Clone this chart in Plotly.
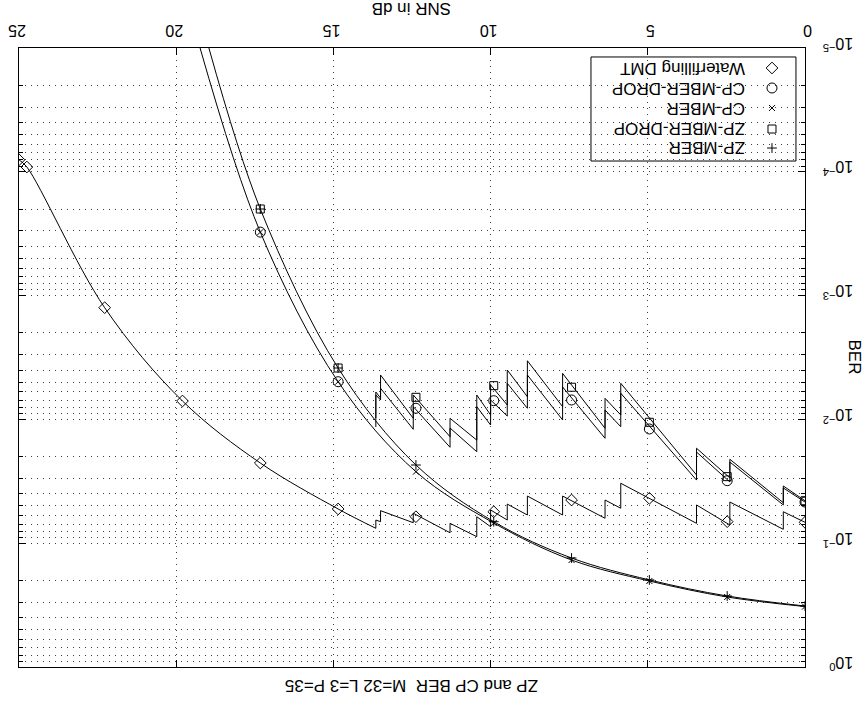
import plotly.graph_objects as go

# ---------------------------------------------------------------------------
# BER vs SNR for ZP / CP block transmission (M=32, L=3, P=35)
# ---------------------------------------------------------------------------

# SNR values (dB) where markers are drawn
snr_marks = [0, 2.475, 4.95, 7.425, 9.9, 12.375, 14.85, 17.325]
snr_marks_wf = [0, 2.475, 4.95, 7.425, 9.9, 12.375, 14.85, 17.325, 19.8, 22.275, 24.75, 25.0]

# marker values
zp_mber_marks = [0.3217, 0.267, 0.198, 0.1317, 0.0670, 0.02335, 0.003844, 0.0001998]
cp_mber_marks = [0.325, 0.272, 0.202, 0.1367, 0.0687, 0.02645, 0.004961, 0.000307]
zp_drop_marks = [0.0454, 0.0290, 0.01055, 0.0055, 0.00534, 0.00663, 0.003844, 0.0001998]
cp_drop_marks = [0.04647, 0.03127, 0.01195, 0.00697, 0.00706, 0.00813, 0.004961, 0.000307]
wf_marks = [0.0678, 0.0670, 0.0434, 0.0448, 0.0557, 0.0611, 0.0529, 0.0225,
            0.0071, 0.001252, 9.15e-5, 8.0e-5]

# smooth MBER curves (no sub-channel dropping), down to BER = 1e-5
zp_mber_snr = [0, 2.475, 4.95, 7.425, 9.9, 12.375, 14.85, 17.325, 18.96]
zp_mber_ber = [0.3217, 0.267, 0.198, 0.1317, 0.0670, 0.02335, 0.003844, 0.0001998, 1e-5]
cp_mber_snr = [0, 2.475, 4.95, 7.425, 9.9, 12.375, 14.85, 17.325, 19.24]
cp_mber_ber = [0.325, 0.272, 0.202, 0.1367, 0.0687, 0.02645, 0.004961, 0.000307, 1e-5]

# bit-loading breakpoints: each SNR appears twice (value before / after the jump)
step_snr = [0, 0.69, 0.69, 2.39, 2.39, 3.45, 3.45, 5.86, 5.86, 6.36, 6.36, 7.71, 7.71,
            8.83, 8.83, 9.47, 9.47, 10.0, 10.0, 10.44, 10.44, 11.29, 11.29, 12.46, 12.46,
            13.5, 13.5, 13.65, 13.65]
zp_drop_ber = [0.0454, 0.0345, 0.0471, 0.0210, 0.0297, 0.0171, 0.0281, 0.00511, 0.00921,
               0.00676, 0.0118, 0.00425, 0.00789, 0.00336, 0.00656, 0.00399, 0.00765,
               0.00527, 0.00921, 0.00635, 0.0147, 0.0098, 0.0138, 0.00635, 0.0098,
               0.00438, 0.00672, 0.00601, 0.00974]
cp_drop_ber = [0.0465, 0.0358, 0.0491, 0.0221, 0.0320, 0.01834, 0.0309, 0.00615, 0.01146,
               0.0084, 0.01421, 0.00547, 0.0101, 0.00438, 0.00813, 0.00511, 0.00939,
               0.00697, 0.0111, 0.00789, 0.01824, 0.01174, 0.0168, 0.00789, 0.01202,
               0.00561, 0.00697, 0.00635, 0.01151]
wf_step_ber = [0.0678, 0.0557, 0.0772, 0.0465, 0.0713, 0.0491, 0.0691, 0.0328, 0.0522,
               0.0448, 0.0629, 0.0416, 0.0592, 0.0416, 0.0592, 0.0483, 0.0650, 0.0539,
               0.0736, 0.0611, 0.0886, 0.0691, 0.0823, 0.0573, 0.0683, 0.0546, 0.0670,
               0.0650, 0.0758]
# waterfilling DMT beyond the last loading change
wf_tail_snr = [13.65, 14.85, 17.325, 19.8, 22.275, 24.75, 25.0]
wf_tail_ber = [0.0758, 0.0529, 0.0225, 0.0071, 0.001252, 9.15e-5, 8.0e-5]

x_ticks = [0, 5, 10, 15, 20, 25]
y_decades = [1e-5, 1e-4, 1e-3, 1e-2, 1e-1, 1e0]
y_tick_text = ["10<sup>\u22125</sup>", "10<sup>\u22124</sup>", "10<sup>\u22123</sup>",
               "10<sup>\u22122</sup>", "10<sup>\u22121</sup>", "10<sup>0</sup>"]
y_minor = [m * d for d in [1e-5, 1e-4, 1e-3, 1e-2, 1e-1] for m in range(2, 10)]

legend_labels = ["Waterfilling DMT", "CP-MBER-DROP", "CP-MBER", "ZP-MBER-DROP", "ZP-MBER"]
legend_symbols = ["diamond-open", "circle-open", "x-thin-open", "square-open", "cross-thin-open"]
legend_sizes = [9, 10, 6, 8, 7]

title_text = "ZP and CP BER  M=32 L=3 P=35"
x_title = "SNR in dB"
y_title = "BER"

FONT = "Liberation Sans, Arial, Helvetica, sans-serif"
INK = "black"
GRID = "rgba(0,0,0,0.75)"
TICK_SIZE = 16
TEXT_SIZE = 17

fig = go.Figure()


def add_line(x, y, shape="linear"):
    fig.add_trace(go.Scatter(
        x=x, y=y, mode="lines", hoverinfo="skip", showlegend=False,
        line=dict(color=INK, width=1, shape=shape, smoothing=1.0)))


def add_marks(x, y, symbol, size, xaxis="x", yaxis="y"):
    fig.add_trace(go.Scatter(
        x=x, y=y, mode="markers", hoverinfo="skip", showlegend=False,
        xaxis=xaxis, yaxis=yaxis,
        marker=dict(symbol=symbol, size=size, color=INK, line=dict(color=INK, width=1))))


# curves
add_line(zp_mber_snr, zp_mber_ber, "spline")
add_line(cp_mber_snr, cp_mber_ber, "spline")
add_line(step_snr, zp_drop_ber)
add_line(step_snr, cp_drop_ber)
add_line(step_snr, wf_step_ber)
add_line(wf_tail_snr, wf_tail_ber, "spline")

# markers
add_marks(snr_marks, zp_mber_marks, "cross-thin-open", 7)
add_marks(snr_marks, zp_drop_marks, "square-open", 8)
add_marks(snr_marks, cp_mber_marks, "x-thin-open", 6)
add_marks(snr_marks, cp_drop_marks, "circle-open", 10)
add_marks(snr_marks_wf, wf_marks, "diamond-open", 9)

# legend box (drawn by hand so the text follows the rotated layout)
box_x0, box_x1 = 0.7277, 0.9885
box_y0, box_y1 = 0.8174, 0.9855
row_y = [0.9677, 0.9354, 0.9031, 0.8691, 0.8384]
mark_x = 0.958
text_x = 0.9262

fig.add_shape(type="rect", xref="paper", yref="paper", x0=box_x0, x1=box_x1,
              y0=box_y0, y1=box_y1, line=dict(color=INK, width=1), fillcolor="white",
              layer="between")
for lab, sym, sz, yy in zip(legend_labels, legend_symbols, legend_sizes, row_y):
    add_marks([mark_x], [yy], sym, sz, xaxis="x2", yaxis="y2")
    fig.add_annotation(x=text_x, y=yy, xref="paper", yref="paper", text=lab,
                       showarrow=False, textangle=180, xanchor="right", yanchor="middle",
                       font=dict(family=FONT, size=TEXT_SIZE, color=INK))

# axis titles and plot title
fig.add_annotation(x=0.5, y=-0.031, xref="paper", yref="paper", text=title_text,
                   showarrow=False, textangle=180, xanchor="center", yanchor="middle",
                   font=dict(family=FONT, size=TEXT_SIZE, color=INK))
fig.add_annotation(x=0.5, y=1.065, xref="paper", yref="paper", text=x_title,
                   showarrow=False, textangle=180, xanchor="center", yanchor="middle",
                   font=dict(family=FONT, size=TEXT_SIZE, color=INK))
fig.add_annotation(x=1.0636, y=0.5, xref="paper", yref="paper", text=y_title,
                   showarrow=False, textangle=90, xanchor="center", yanchor="middle",
                   font=dict(family=FONT, size=TEXT_SIZE, color=INK))

fig.update_layout(
    width=867, height=707,
    margin=dict(l=19, r=62, t=48, b=40, pad=0, autoexpand=False),
    paper_bgcolor="white", plot_bgcolor="white",
    showlegend=False,
    font=dict(family=FONT, size=TICK_SIZE, color=INK),
    xaxis=dict(
        range=[25, 0], side="top", tickvals=x_ticks, ticktext=[str(v) for v in x_ticks],
        tickangle=180, ticks="inside", ticklen=7, tickcolor=INK, tickwidth=1,
        showline=True, linecolor=INK, linewidth=1, mirror="ticks",
        showgrid=True, gridcolor=GRID, gridwidth=1, griddash="1px,5px",
        zeroline=False, ticklabelstandoff=0, ticklabelshift=-7, automargin=False,
        tickfont=dict(family=FONT, size=TICK_SIZE, color=INK)),
    yaxis=dict(
        type="log", range=[0, -5], side="right", tickvals=y_decades, ticktext=y_tick_text,
        tickangle=180, ticks="inside", ticklen=7, tickcolor=INK, tickwidth=1,
        showline=True, linecolor=INK, linewidth=1, mirror="ticks",
        showgrid=True, gridcolor=GRID, gridwidth=1, griddash="1px,5px",
        zeroline=False, ticklabelstandoff=44, automargin=False,
        tickfont=dict(family=FONT, size=TICK_SIZE, color=INK),
        minor=dict(tickvals=y_minor, ticks="inside", ticklen=4, tickcolor=INK,
                   showgrid=True, gridcolor=GRID, gridwidth=1, griddash="1px,5px")),
    xaxis2=dict(range=[0, 1], overlaying="x", visible=False, anchor="y2"),
    yaxis2=dict(range=[0, 1], overlaying="y", visible=False, anchor="x2"),
)

fig.write_html("out.html")
